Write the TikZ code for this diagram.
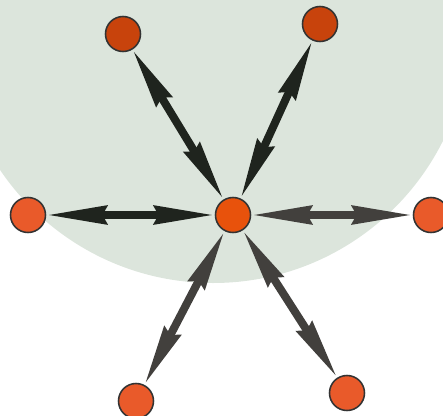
\documentclass[tikz,border=0pt]{standalone}
\usetikzlibrary{arrows.meta, positioning}
\definecolor{cnode}{HTML}{E95A2A}
\definecolor{cnodetop}{HTML}{C8430C}
\definecolor{chub}{HTML}{E8520C}
\definecolor{cedge}{HTML}{333333}
\definecolor{cdark}{HTML}{1F241E}
\definecolor{cgrey}{HTML}{42403D}
\definecolor{cseal}{HTML}{DCE5DC}
\tikzset{
  every picture/.style={line width=1.1pt},
  vertex/.style={circle, draw=cedge, fill=#1, line width=1.1pt, minimum size=0.875cm, inner sep=0pt},
  vertex/.default=cnode,
  link/.style={{Stealth[length=1.5cm 0 0, width=0.45cm 0 0, inset=0.1cm 0]}-{Stealth[length=1.5cm 0 0, width=0.45cm 0 0, inset=0.1cm 0]}, draw=#1, fill=#1, line width=0.2cm},
  link/.default=cgrey,
}

\begin{document}
\begin{tikzpicture}[x=0.025cm, y=-0.025cm]
  \useasboundingbox (0,0) rectangle (443,416);
  % faint seal in the background
  \begin{scope}
    \clip (0,0) rectangle (443,416);
    \fill[cseal] (213,26) circle [radius=257];
  \end{scope}
  % hub and the six outer nodes
  \node[vertex=chub] (hub) at (233,215) {};
  \foreach \p/\x/\y/\c in {nw/123/34/cnodetop, ne/320/24/cnodetop, w/28/215/cnode,
                          e/431/215/cnode, sw/136/401/cnode, se/347/393/cnode} {
    \node[vertex=\c] (\p) at (\x,\y) {};
  }
  % double arrows from the hub out to every node
  \foreach \p/\c in {nw/cdark, ne/cdark, w/cdark, e/cgrey, sw/cgrey, se/cgrey} {
    \draw[link=\c] (hub) -- (\p);
  }
\end{tikzpicture}
\end{document}
